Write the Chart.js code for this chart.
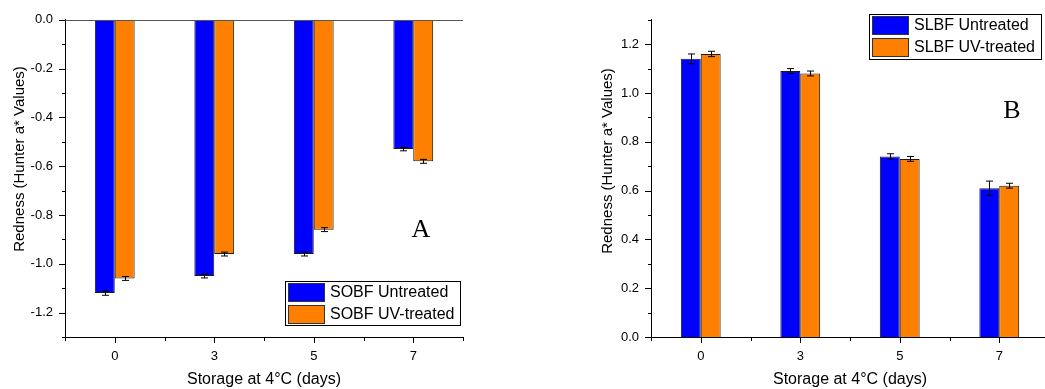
<!DOCTYPE html>
<html>
<head>
<meta charset="utf-8">
<script src="https://cdn.jsdelivr.net/npm/chart.js"></script>
<style>
  html, body { margin: 0; padding: 0; background: #fff; overflow: hidden; }
  #boxA { position: absolute; left: 0; top: 0; width: 480px; height: 389px; }
  #boxB { position: absolute; left: 530px; top: 0; width: 519px; height: 389px; }
</style>
</head>
<body>
<div id="boxA"><canvas id="chartA" width="480" height="389"></canvas></div>
<div id="boxB"><canvas id="chartB" width="519" height="389"></canvas></div>
<script>
// storage days (x categories)
var days = ["0", "3", "5", "7"];

// panel A: SOBF
var sobfUntreated = [-1.12, -1.05, -0.96, -0.53];
var sobfUntreatedErr = [0.009, 0.008, 0.008, 0.007];
var sobfUV = [-1.06, -0.96, -0.86, -0.58];
var sobfUVErr = [0.008, 0.008, 0.008, 0.008];
var yTicksA = [-1.2, -1.0, -0.8, -0.6, -0.4, -0.2, 0.0];

// panel B: SLBF
var slbfUntreated = [1.14, 1.09, 0.74, 0.61];
var slbfUntreatedErr = [0.02, 0.01, 0.011, 0.029];
var slbfUV = [1.16, 1.08, 0.73, 0.62];
var slbfUVErr = [0.011, 0.01, 0.01, 0.01];
var yTicksB = [0.0, 0.2, 0.4, 0.6, 0.8, 1.0, 1.2];

var FONT = "'Liberation Sans', Arial, sans-serif";
var BLUE = '#0000ff';
var ORANGE = '#ff8000';

// error bars, tick marks, legend box, panel letter, y title
var decor = {
  id: 'decor',
  afterDatasetsDraw(chart) {
    var ctx = chart.ctx, y = chart.scales.y;
    ctx.save();
    ctx.strokeStyle = '#000';
    ctx.lineWidth = 1;
    chart.data.datasets.forEach(function (ds, i) {
      var meta = chart.getDatasetMeta(i);
      meta.data.forEach(function (bar, j) {
        var v = ds.data[j], e = ds.err[j];
        var x = Math.round(bar.x) + 0.5;
        var y1 = y.getPixelForValue(v + e), y2 = y.getPixelForValue(v - e);
        ctx.beginPath();
        ctx.moveTo(x, y1); ctx.lineTo(x, y2);
        ctx.moveTo(x - 3.5, y1); ctx.lineTo(x + 3.5, y1);
        ctx.moveTo(x - 3.5, y2); ctx.lineTo(x + 3.5, y2);
        ctx.stroke();
      });
    });
    ctx.restore();
  },
  afterDraw(chart, args, opts) {
    var ctx = chart.ctx, x = chart.scales.x, y = chart.scales.y, area = chart.chartArea;
    ctx.save();
    ctx.strokeStyle = '#000';
    ctx.lineWidth = 1;
    ctx.beginPath();
    var lo = Math.round(y.min * 10), hi = Math.round(y.max * 10);
    for (var i = lo; i <= hi; i++) {
      var py = Math.round(y.getPixelForValue(i / 10)) + 0.5;
      var len = (i % 2 === 0) ? 6 : 3;
      ctx.moveTo(area.left - len, py); ctx.lineTo(area.left, py);
    }
    var n = chart.data.labels.length;
    var step = (area.right - area.left) / n;
    for (var k = 0; k <= n; k++) {
      var bx = Math.round(area.left + k * step) + 0.5;
      ctx.moveTo(bx, area.bottom); ctx.lineTo(bx, area.bottom + 4);
    }
    for (var c = 0; c < n; c++) {
      var cx = Math.round(x.getPixelForValue(c)) + 0.5;
      ctx.moveTo(cx, area.bottom); ctx.lineTo(cx, area.bottom + 6);
    }
    ctx.stroke();
    if (opts.topLine) {
      ctx.strokeStyle = '#555';
      ctx.beginPath();
      var ty = Math.round(y.getPixelForValue(0)) + 0.5;
      ctx.moveTo(area.left, ty); ctx.lineTo(area.right, ty);
      ctx.stroke();
    }

    // y title
    ctx.fillStyle = '#000';
    ctx.font = '15px ' + FONT;
    ctx.textAlign = 'center';
    ctx.textBaseline = 'middle';
    ctx.save();
    ctx.translate(opts.titleX, opts.titleY);
    ctx.rotate(-Math.PI / 2);
    ctx.fillText('Redness (Hunter a* Values)', 0, 0);
    ctx.restore();

    // panel letter
    ctx.font = '26px "Liberation Serif", "Times New Roman", serif';
    ctx.fillText(opts.letter, opts.letterX, opts.letterY);

    // legend
    var L = opts.legend;
    ctx.fillStyle = '#fff';
    ctx.fillRect(L.x, L.y, L.w, L.h);
    ctx.strokeStyle = '#000';
    ctx.strokeRect(L.x + 0.5, L.y + 0.5, L.w, L.h);
    ctx.font = '16px ' + FONT;
    ctx.textAlign = 'left';
    chart.data.datasets.forEach(function (ds, i) {
      var sy = L.y + 2 + i * 22;
      ctx.fillStyle = ds.backgroundColor;
      ctx.fillRect(L.x + 3, sy, 37, 19);
      ctx.strokeStyle = '#333';
      ctx.strokeRect(L.x + 3.5, sy + 0.5, 36, 18);
      ctx.fillStyle = '#000';
      ctx.fillText(ds.label, L.x + 45, sy + 10);
    });
    ctx.restore();
  }
};

function makeChart(id, sets, yMin, yMax, yTicks, yWidth, padRight, deco) {
  return new Chart(document.getElementById(id), {
    type: 'bar',
    data: {
      labels: days,
      datasets: sets.map(function (s) {
        return {
          label: s.label,
          data: s.data,
          err: s.err,
          backgroundColor: s.color,
          borderColor: '#1a1a1a',
          borderWidth: 1,
          categoryPercentage: 0.4,
          barPercentage: 1.0
        };
      })
    },
    options: {
      responsive: false,
      animation: false,
      layout: { padding: { top: 14, right: padRight, left: 0, bottom: 0 } },
      plugins: { legend: { display: false }, tooltip: { enabled: false }, decor: deco },
      scales: {
        x: {
          grid: { display: false, drawTicks: false },
          border: { display: true, color: '#000', width: 1 },
          ticks: { color: '#000', font: { family: FONT, size: 13 }, padding: 12, maxRotation: 0 },
          title: { display: true, text: 'Storage at 4°C (days)', color: '#000', font: { family: FONT, size: 16 }, padding: { top: 0, bottom: 0 } },
          afterFit: function (s) { s.height = 52; }
        },
        y: {
          min: yMin, max: yMax,
          grid: { display: false, drawTicks: false },
          border: { display: true, color: '#000', width: 1 },
          ticks: {
            color: '#000', font: { family: FONT, size: 13 }, padding: 12,
            callback: function (v) { return Number(v).toFixed(1); }
          },
          afterBuildTicks: function (s) { s.ticks = yTicks.map(function (v) { return { value: v }; }); },
          afterFit: function (s) { s.width = yWidth; }
        }
      }
    },
    plugins: [decor]
  });
}

makeChart('chartA', [
  { label: 'SOBF Untreated', data: sobfUntreated, err: sobfUntreatedErr, color: BLUE },
  { label: 'SOBF UV-treated', data: sobfUV, err: sobfUVErr, color: ORANGE }
], -1.3, 0, yTicksA, 65, 17, {
  topLine: true, titleX: 20, titleY: 159, letter: 'A', letterX: 421, letterY: 230,
  legend: { x: 285, y: 281, w: 175, h: 44 }
});

makeChart('chartB', [
  { label: 'SLBF Untreated', data: slbfUntreated, err: slbfUntreatedErr, color: BLUE },
  { label: 'SLBF UV-treated', data: slbfUV, err: slbfUVErr, color: ORANGE }
], 0, 1.3, yTicksB, 121, 0, {
  topLine: false, titleX: 78, titleY: 161, letter: 'B', letterX: 482, letterY: 111,
  legend: { x: 339, y: 14, w: 172, h: 45 }
});
</script>
</body>
</html>
